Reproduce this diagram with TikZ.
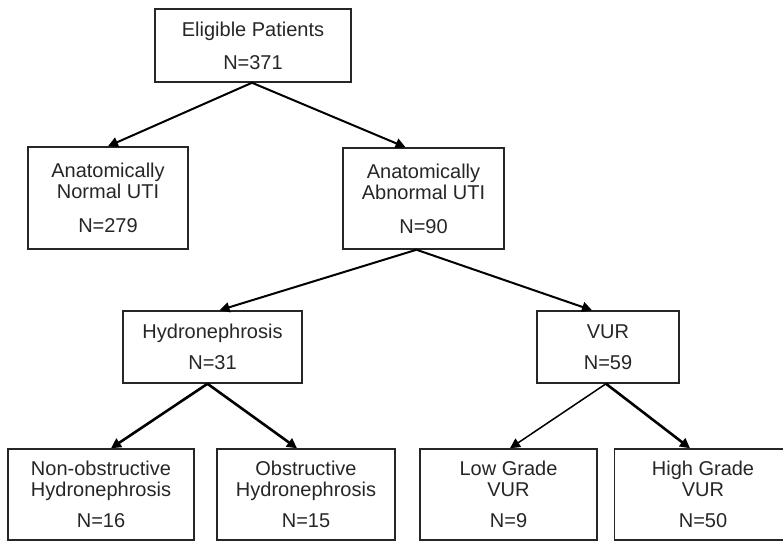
\documentclass[tikz,border=0pt]{standalone}
\usepackage{fontspec}
\setmainfont{Liberation Sans}
\usetikzlibrary{arrows.meta}
\begin{document}
\begin{tikzpicture}[x=1pt,y=-1pt,
  box/.style={draw=black!85, line width=1.5pt, rectangle, inner sep=0pt,
    align=center, font=\fontsize{20}{21}\selectfont, text=black!85},
  conn/.style={line width=2pt, -{Triangle[length=10pt,width=10pt]}},
  thickconn/.style={line width=2.6pt, -{Triangle[length=10pt,width=10pt]}},
  thinconn/.style={line width=1.5pt, -{Triangle[length=10pt,width=10pt]}}]
\useasboundingbox (0,0) rectangle (783,541);
\node[box, minimum width=196pt, minimum height=73pt] (elig) at (253,45.5) {Eligible Patients\\[12pt]N=371};
\node[box, minimum width=160pt, minimum height=102pt] (norm) at (108,198) {Anatomically\\Normal UTI\\[13pt]N=279};
\node[box, minimum width=161pt, minimum height=101pt] (abn) at (423.5,198.5) {Anatomically\\Abnormal UTI\\[13pt]N=90};
\node[box, minimum width=179pt, minimum height=72pt] (hyd) at (212.5,347) {Hydronephrosis\\[10pt]N=31};
\node[box, minimum width=142pt, minimum height=72pt] (vur) at (608,347) {VUR\\[10pt]N=59};
\node[box, minimum width=186pt, minimum height=91pt] (nonobs) at (101,494.5) {Non-obstructive\\Hydronephrosis\\[10pt]N=16};
\node[box, minimum width=178pt, minimum height=91pt] (obs) at (306,494.5) {Obstructive\\Hydronephrosis\\[10pt]N=15};
\node[box, minimum width=177pt, minimum height=91pt] (low) at (508.5,494.5) {Low Grade\\VUR\\[10pt]N=9};
\node[box, minimum width=177pt, minimum height=91pt] (high) at (703,494.5) {High Grade\\VUR\\[10pt]N=50};

\draw[conn] ([xshift=-1pt]elig.south) -- (norm.north);
\draw[conn] ([xshift=-1pt]elig.south) -- ([xshift=-18pt]abn.north);
\draw[conn] ([xshift=-7pt]abn.south) -- ([xshift=7pt]hyd.north);
\draw[conn] ([xshift=-7pt]abn.south) -- ([xshift=-16pt]vur.north);
\draw[thickconn] ([xshift=-5pt]hyd.south) -- ([xshift=10pt]nonobs.north);
\draw[thickconn] ([xshift=-5pt]hyd.south) -- ([xshift=-9pt]obs.north);
\draw[thinconn] ([xshift=-2pt]vur.south) -- ([xshift=1.5pt]low.north);
\draw[thickconn] ([xshift=-2pt]vur.south) -- ([xshift=-13pt]high.north);
\end{tikzpicture}
\end{document}
